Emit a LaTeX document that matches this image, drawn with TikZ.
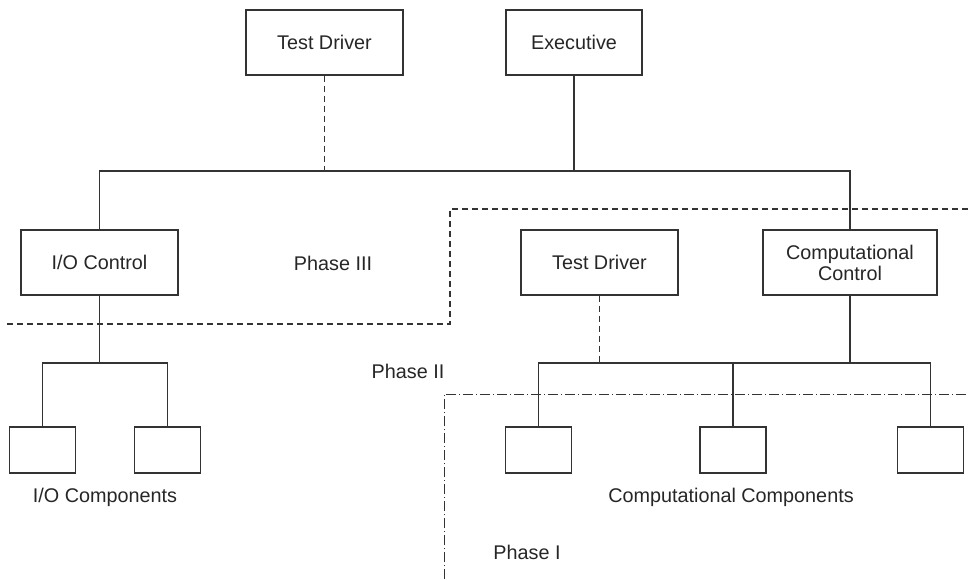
\documentclass[tikz,border=0pt]{standalone}
\usepackage{fontspec}
\setmainfont{Liberation Sans}
\begin{document}
\begin{tikzpicture}[x=1pt,y=-1pt,
  every node/.style={font=\fontsize{19.8}{21}\selectfont, text=black!85},
  box/.style={draw=black!80, line width=1.2pt, rectangle, inner sep=0pt, minimum height=65pt, align=center},
  comp/.style={draw=black!80, line width=1.2pt, rectangle, inner sep=0pt, minimum width=66pt, minimum height=46pt},
  link/.style={draw=black!80, line width=1.2pt},
  dlink/.style={draw=black!80, line width=1.1pt, dash pattern=on 6pt off 4pt},
  phase/.style={draw=black!80, line width=1.1pt, dash pattern=on 6pt off 4pt},
  phaseone/.style={draw=black!80, line width=1pt, dash pattern=on 10pt off 3pt on 1pt off 3pt},
  lbl/.style={inner sep=0pt}
]
\useasboundingbox (0,0) rectangle (969,579);

% boxes
\node[box, minimum width=157pt] (td1) at (324.5,42.5) {Test Driver};
\node[box, minimum width=136pt] (exe) at (574,42.5) {Executive};
\node[box, minimum width=157pt] (ioc) at (99.5,262.5) {I/O Control};
\node[box, minimum width=157pt] (td2) at (599.5,262.5) {Test Driver};
\node[box, minimum width=174pt] (cc) at (850,262.5) {Computational\\Control};

\node[comp] (io1) at (42.5,450) {};
\node[comp] (io2) at (167.5,450) {};
\node[comp] (c1) at (538.5,450) {};
\node[comp] (c2) at (733,450) {};
\node[comp] (c3) at (930.5,450) {};

% bus levels
\coordinate (top) at (0,171);
\coordinate (low) at (0,363);

% top-level connections
\draw[link] (ioc.north) -- (ioc.north |- top) -- (cc.north |- top) -- (cc.north);
\draw[link] (exe.south) -- (exe.south |- top);
\draw[dlink] (td1.south) -- (td1.south |- top);

% I/O components
\draw[link] (ioc.south) -- (ioc.south |- low);
\draw[link] (io1.north) -- (io1.north |- low) -- (io2.north |- low) -- (io2.north);

% computational components
\draw[link] (cc.south) -- (cc.south |- low);
\draw[dlink] (td2.south) -- (td2.south |- low);
\draw[link] (c1.north) -- (c1.north |- low) -- (c3.north |- low) -- (c3.north);
\draw[link] (c2.north) -- (c2.north |- low);

% phase boundaries
\coordinate (p3a) at (7,324);
\coordinate (p3b) at (450,324);
\coordinate (p3c) at (450,209);
\coordinate (p3d) at (969,209);
\draw[phase] (p3a) -- (p3b) -- (p3c) -- (p3d);
\coordinate (p1a) at (444,579);
\coordinate (p1b) at (444,394);
\coordinate (p1c) at (969,394);
\draw[phaseone] (p1a) -- (p1b) -- (p1c);

% labels
\node[lbl] (l3) at (333,263) {Phase III};
\node[lbl] (l2) at (408,371) {Phase II};
\node[lbl] (l1) at (527,552) {Phase I};
\node[lbl] (lio) at (105,497) {I/O Components};
\node[lbl] (lcc) at (731,497) {Computational Components};
\end{tikzpicture}
\end{document}
